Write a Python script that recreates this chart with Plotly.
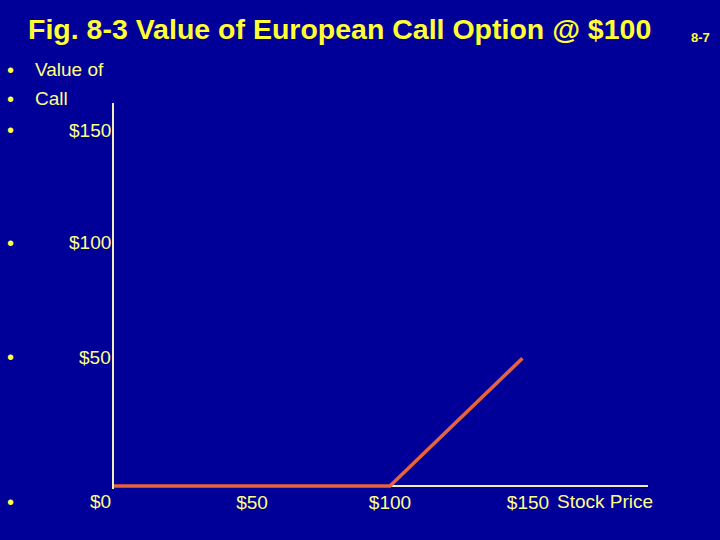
import plotly.graph_objects as go

# ---- data ----
stock_price = [0, 100, 148]
call_value = [0, 0, 50]

x_tick_vals = [50, 100, 150]
x_tick_text = ["$50", "$100", "$150"]

bullet_lines = ["Value of", "Call", "$150", "$100", "$50", "$0"]

title_text = "Fig. 8-3 Value of European Call Option @ $100"
slide_no = "8-7"

# ---- style ----
BG = "#000099"
TITLE_COL = "#FFFF33"
TEXT_COL = "#FFFF85"
BULLET_COL = "#FFFF44"
AXIS_COL = "#F2EDB8"
LINE_COL = "#E8623A"
FONT = "Liberation Sans, Arial, sans-serif"

W, H = 720, 540
L, R, T, B = 114, 72, 103, 51
pw, ph = W - L - R, H - T - B


def px(xp):
    return (xp - L) / pw


def py(yp):
    return (H - B - yp) / ph


fig = go.Figure()
fig.add_trace(go.Scatter(
    x=stock_price, y=call_value, mode="lines",
    line=dict(color=LINE_COL, width=3.5), hoverinfo="skip", showlegend=False,
))

ann = []
# title
ann.append(dict(text=title_text, xref="paper", yref="paper", x=px(26), y=py(29),
                xanchor="left", yanchor="middle", showarrow=False,
                font=dict(family=FONT, size=28.5, color=TITLE_COL, weight="bold")))
ann.append(dict(text=slide_no, xref="paper", yref="paper", x=px(712), y=py(37),
                xanchor="right", yanchor="middle", showarrow=False,
                font=dict(family=FONT, size=13, color=TITLE_COL, weight="bold")))

# bullet list rows (slide text)
rows_y = [70, 99, 130, 243, 357, 502]
for i, (txt, yy) in enumerate(zip(bullet_lines, rows_y)):
    ann.append(dict(text="•", xref="paper", yref="paper", x=px(10), y=py(yy),
                    xanchor="center", yanchor="middle", showarrow=False,
                    font=dict(family=FONT, size=20, color=BULLET_COL)))
    if i < 2:
        ann.append(dict(text=txt, xref="paper", yref="paper", x=px(33), y=py(yy),
                        xanchor="left", yanchor="middle", showarrow=False,
                        font=dict(family=FONT, size=19, color=TEXT_COL)))
    else:
        ann.append(dict(text=txt, xref="paper", yref="paper", x=px(113), y=py(yy),
                        xanchor="right", yanchor="middle", showarrow=False,
                        font=dict(family=FONT, size=19, color=TEXT_COL)))

ann.append(dict(text="Stock Price", xref="paper", yref="paper", x=px(555), y=py(502),
                xanchor="left", yanchor="middle", showarrow=False,
                font=dict(family=FONT, size=19, color=TEXT_COL)))

fig.update_layout(
    width=W, height=H,
    margin=dict(l=L, r=R, t=T, b=B, pad=0),
    paper_bgcolor=BG, plot_bgcolor=BG,
    showlegend=False,
    annotations=ann,
    xaxis=dict(range=[0, 193.5], showgrid=False, zeroline=False,
               showline=False, tickvals=x_tick_vals, ticktext=x_tick_text,
               ticks="", tickfont=dict(family=FONT, size=19, color=TEXT_COL),
               fixedrange=True),
    yaxis=dict(range=[-1.2, 150], showgrid=False, zeroline=True,
               zerolinecolor=AXIS_COL, zerolinewidth=2,
               showline=True, linecolor=AXIS_COL, linewidth=2,
               showticklabels=False, ticks="", layer="below traces",
               fixedrange=True),
)

fig.write_html(
    "out.html",
    config={"displayModeBar": False},
    post_script="document.body.style.margin='0';document.body.style.background='" + BG + "';",
)
